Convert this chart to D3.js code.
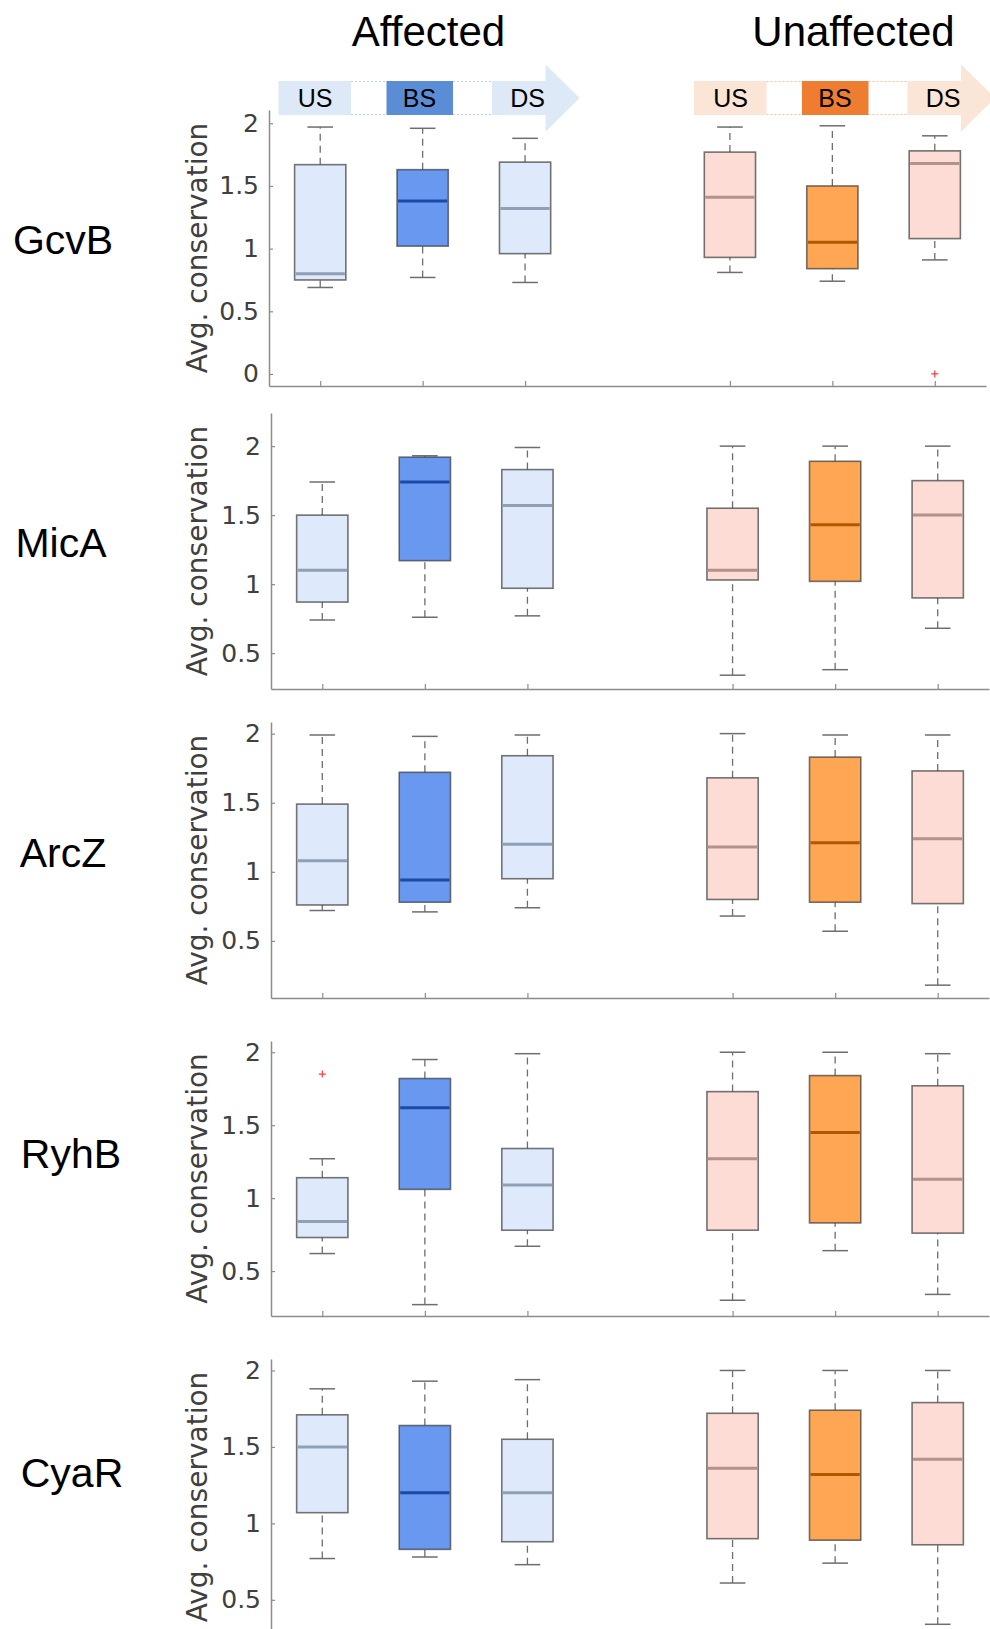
<!DOCTYPE html>
<html>
<head>
<meta charset="utf-8">
<script src="https://cdn.jsdelivr.net/npm/d3@7"></script>
<style>
  body { margin: 0; background: #fff; }
</style>
</head>
<body>
<div id="chart"></div>
<script>
let width = 990;
let height = 1629;

// Categories
let rnas = ["GcvB", "MicA", "ArcZ", "RyhB", "CyaR"];
let regions = ["US", "BS", "DS"];
let groups = ["Affected", "Unaffected"];
let boxPos = [1, 2, 3, 5, 6, 7];   // Affected US/BS/DS, gap, Unaffected US/BS/DS

// Box statistics, one row per sRNA, six boxes per row
let whiskerLow = [
    [0.69, 0.77, 0.73, 0.81, 0.74, 0.91],
    [0.74, 0.76, 0.77, 0.34, 0.38, 0.68],
    [0.72, 0.71, 0.74, 0.68, 0.57, 0.18],
    [0.62, 0.27, 0.67, 0.30, 0.64, 0.34],
    [0.77, 0.78, 0.73, 0.61, 0.74, 0.34]
];
let q1 = [
    [0.75, 1.02, 0.96, 0.93, 0.84, 1.08],
    [0.87, 1.17, 0.97, 1.03, 1.02, 0.90],
    [0.76, 0.78, 0.95, 0.80, 0.78, 0.77],
    [0.73, 1.06, 0.78, 0.78, 0.83, 0.76],
    [1.07, 0.83, 0.88, 0.90, 0.89, 0.86]
];
let median = [
    [0.80, 1.38, 1.32, 1.41, 1.05, 1.68],
    [1.10, 1.74, 1.57, 1.10, 1.43, 1.50],
    [1.08, 0.94, 1.20, 1.18, 1.21, 1.24],
    [0.84, 1.62, 1.09, 1.27, 1.45, 1.13],
    [1.50, 1.20, 1.20, 1.36, 1.32, 1.42]
];
let q3 = [
    [1.67, 1.63, 1.69, 1.77, 1.50, 1.78],
    [1.50, 1.92, 1.83, 1.55, 1.89, 1.75],
    [1.49, 1.72, 1.84, 1.68, 1.83, 1.73],
    [1.14, 1.82, 1.34, 1.73, 1.84, 1.77],
    [1.71, 1.64, 1.55, 1.72, 1.74, 1.79]
];
let whiskerHigh = [
    [1.97, 1.96, 1.88, 1.97, 1.98, 1.90],
    [1.74, 1.93, 1.99, 2.00, 2.00, 2.00],
    [1.99, 1.98, 1.99, 2.00, 1.99, 1.99],
    [1.27, 1.95, 1.99, 2.00, 2.00, 1.99],
    [1.88, 1.93, 1.94, 2.00, 2.00, 2.00]
];
let outliers = [
    {rna: "GcvB", box: 5, value: 0.0},
    {rna: "RyhB", box: 0, value: 1.85}
];

// Axis limits and tick labels per panel
let yLimits = [[-0.096, 2.106], [0.24, 2.24], [0.087, 2.084], [0.192, 2.077], [0.27, 2.075]];
let yTicks = [
    [0, 0.5, 1, 1.5, 2],
    [0.5, 1, 1.5, 2],
    [0.5, 1, 1.5, 2],
    [0.5, 1, 1.5, 2],
    [0.5, 1, 1.5, 2]
];

// Panel placement on the page
let panels = [
    {top: 110, bottom: 386, left: 269, right: 986},
    {top: 413, bottom: 689, left: 271, right: 989},
    {top: 722, bottom: 998, left: 271, right: 989},
    {top: 1041, bottom: 1316, left: 271, right: 989},
    {top: 1359, bottom: 1635, left: 271, right: 989}
];
let rowLabelPos = [{x: 63, y: 239}, {x: 61, y: 542}, {x: 63, y: 852}, {x: 71, y: 1153}, {x: 72, y: 1472}];

let fills = {
    Affected: {light: "#deeafb", strong: "#6898f0", lightMed: "#8e9fb6", strongMed: "#1b4aa6"},
    Unaffected: {light: "#fcdcd4", strong: "#fea653", lightMed: "#b49189", strongMed: "#b05800"}
};
let banner = {
    Affected: {light: "#dde9f6", strong: "#5b8dd7", dots: "#bcd2f0", x0: 278.5},
    Unaffected: {light: "#fbe5d6", strong: "#ee7d32", dots: "#f6c29e", x0: 694}
};

let tickFont = "'DejaVu Sans', sans-serif";
let labelFont = "'Liberation Sans', Arial, sans-serif";

let svg = d3.select("#chart")
    .append("svg")
    .attr("width", width)
    .attr("height", height);

// Column titles
groups.forEach(function (g, i) {
    svg.append("text")
        .attr("x", i === 0 ? 428.5 : 853.5)
        .attr("y", 46)
        .attr("text-anchor", "middle")
        .attr("font-family", labelFont)
        .attr("font-size", 42)
        .attr("fill", "#000")
        .text(g);
});

// Region banners (US -> BS -> DS arrow)
groups.forEach(function (g) {
    let b = banner[g];
    let bg = svg.append("g").attr("transform", "translate(" + b.x0 + ",0)");
    let rTop = 81, rBot = 115;
    // dotted connectors
    [[72.5, 108], [174.5, 213.5]].forEach(function (seg) {
        [rTop + 0.5, rBot - 0.5].forEach(function (yy) {
            bg.append("line")
                .attr("x1", seg[0]).attr("x2", seg[1])
                .attr("y1", yy).attr("y2", yy)
                .attr("stroke", b.dots)
                .attr("stroke-width", 1)
                .attr("stroke-dasharray", "2,2");
        });
    });
    bg.append("rect").attr("x", 0).attr("y", rTop).attr("width", 72.5).attr("height", rBot - rTop).attr("fill", b.light);
    bg.append("rect").attr("x", 108).attr("y", rTop).attr("width", 66.5).attr("height", rBot - rTop).attr("fill", b.strong);
    bg.append("path")
        .attr("d", "M213.5," + rTop + "H267V64.5L301,98L267,131.7V" + rBot + "H213.5Z")
        .attr("fill", b.light);
    let labelX = [36.5, 141, 249];
    regions.forEach(function (r, i) {
        bg.append("text")
            .attr("x", labelX[i])
            .attr("y", 107)
            .attr("text-anchor", "middle")
            .attr("font-family", labelFont)
            .attr("font-size", 25)
            .attr("fill", "#000")
            .text(r);
    });
});

// One panel per sRNA
rnas.forEach(function (rna, ri) {
    let p = panels[ri];
    let xScale = d3.scaleLinear().domain([0.5, 7.5]).range([p.left, p.right]);
    let yScale = d3.scaleLinear().domain(yLimits[ri]).range([p.bottom, p.top]);
    let g = svg.append("g").attr("class", "panel");

    // y axis
    let yAxis = d3.axisLeft(yScale)
        .tickValues(yTicks[ri])
        .tickFormat(d3.format("~g"))
        .tickSize(-4)
        .tickPadding(10)
        .tickSizeOuter(0);
    let ya = g.append("g")
        .attr("transform", "translate(" + p.left + ",0)")
        .call(yAxis);
    ya.select(".domain").attr("stroke", "#8c8c8c").attr("stroke-width", 1.5);
    ya.selectAll(".tick line").attr("stroke", "#8c8c8c").attr("stroke-width", 1.2);
    ya.selectAll(".tick text")
        .attr("font-family", tickFont)
        .attr("font-size", 25)
        .attr("fill", "#404040");

    // x axis (ticks only, no labels)
    let xAxis = d3.axisBottom(xScale)
        .tickValues(boxPos)
        .tickFormat("")
        .tickSize(-5)
        .tickSizeOuter(0);
    let xa = g.append("g")
        .attr("transform", "translate(0," + p.bottom + ")")
        .call(xAxis);
    xa.select(".domain").attr("stroke", "#8c8c8c").attr("stroke-width", 1.5);
    xa.selectAll(".tick line").attr("stroke", "#8c8c8c").attr("stroke-width", 1.2);

    // y label
    g.append("text")
        .attr("transform", "translate(207," + ((p.top + p.bottom) / 2) + ") rotate(-90)")
        .attr("text-anchor", "middle")
        .attr("font-family", tickFont)
        .attr("font-size", 28)
        .attr("fill", "#404040")
        .text("Avg. conservation");

    // row label
    svg.append("text")
        .attr("x", rowLabelPos[ri].x)
        .attr("y", rowLabelPos[ri].y + 15)
        .attr("text-anchor", "middle")
        .attr("font-family", labelFont)
        .attr("font-size", 41)
        .attr("fill", "#000")
        .text(rna);

    let boxW = xScale(1.25) - xScale(1);
    let capW = xScale(1.125) - xScale(1);

    boxPos.forEach(function (pos, bi) {
        let grp = bi < 3 ? groups[0] : groups[1];
        let strong = (bi % 3) === 1;
        let cx = xScale(pos);
        let bx = g.append("g");

        // dashed whiskers
        [[q3[ri][bi], whiskerHigh[ri][bi]], [whiskerLow[ri][bi], q1[ri][bi]]].forEach(function (w) {
            bx.append("line")
                .attr("x1", cx).attr("x2", cx)
                .attr("y1", yScale(w[0])).attr("y2", yScale(w[1]))
                .attr("stroke", "#6e6e6e")
                .attr("stroke-width", 1.3)
                .attr("stroke-dasharray", "7,5");
        });
        // caps
        [whiskerHigh[ri][bi], whiskerLow[ri][bi]].forEach(function (v) {
            bx.append("line")
                .attr("x1", cx - capW).attr("x2", cx + capW)
                .attr("y1", yScale(v)).attr("y2", yScale(v))
                .attr("stroke", "#6e6e6e")
                .attr("stroke-width", 1.5);
        });
        // box
        bx.append("rect")
            .attr("x", cx - boxW)
            .attr("y", yScale(q3[ri][bi]))
            .attr("width", boxW * 2)
            .attr("height", yScale(q1[ri][bi]) - yScale(q3[ri][bi]))
            .attr("fill", strong ? fills[grp].strong : fills[grp].light)
            .attr("stroke", "#3a3a3a")
            .attr("stroke-opacity", 0.7)
            .attr("stroke-width", 1.6);
        // median
        bx.append("line")
            .attr("x1", cx - boxW + 1).attr("x2", cx + boxW - 1)
            .attr("y1", yScale(median[ri][bi])).attr("y2", yScale(median[ri][bi]))
            .attr("stroke", strong ? fills[grp].strongMed : fills[grp].lightMed)
            .attr("stroke-width", 3);
    });

    // outliers
    outliers.filter(function (o) { return o.rna === rna; }).forEach(function (o) {
        let ox = xScale(boxPos[o.box]);
        let oy = yScale(o.value);
        g.append("path")
            .attr("d", "M" + (ox - 3.5) + "," + oy + "H" + (ox + 3.5) + "M" + ox + "," + (oy - 3.5) + "V" + (oy + 3.5))
            .attr("stroke", "#ff3b3b")
            .attr("stroke-width", 1.2)
            .attr("fill", "none");
    });
});
</script>
</body>
</html>
